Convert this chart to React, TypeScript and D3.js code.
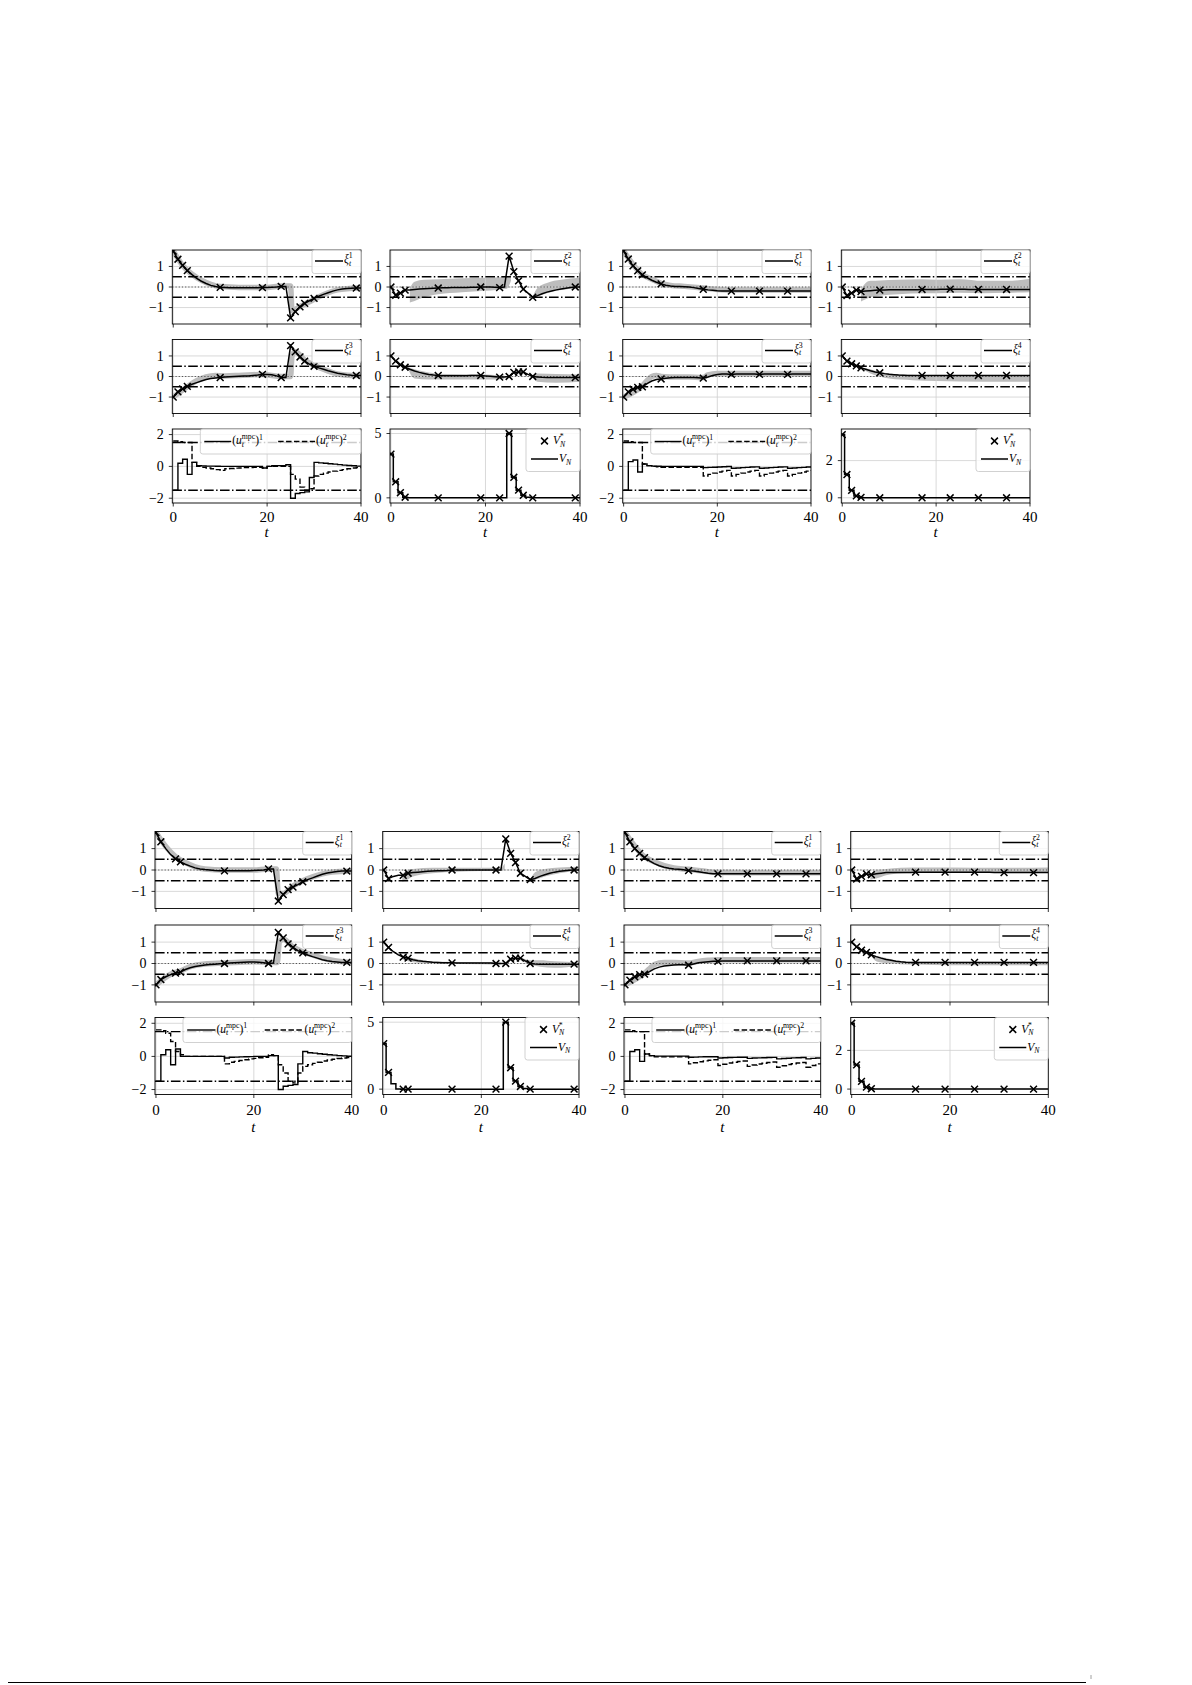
import React from 'react';
import * as d3 from 'd3';

// ---------- shared ----------
const T = d3.range(0, 41);
const X_DOMAIN = [-0.2, 40];
const X_TICKS = [0, 20, 40];
const X_TICK_LABELS = ['0', '20', '40'];
const XI_DOMAIN = [-1.8, 1.8];
const XI_TICKS = [-1, 0, 1];
const XI_TICK_LABELS = ['−1', '0', '1'];
const U_DOMAIN = [-2.3, 2.35];
const U_TICKS = [-2, 0, 2];
const U_TICK_LABELS = ['−2', '0', '2'];
const XI_BOUNDS = [-0.5, 0.5];
const U_BOUNDS = [-1.5, 1.5];
const V5_DOMAIN = [-0.4, 5.35];
const V5_TICKS = [0, 5];
const V5_TICK_LABELS = ['0', '5'];
const V2_DOMAIN = [-0.28, 3.7];
const V2_TICKS = [0, 2];
const V2_TICK_LABELS = ['0', '2'];

type Pt = [number, number];
type Bd = [number, number, number] | null;

// ---------- scenario A (top, left pair) ----------
const A_MARK = [0, 1, 2, 3, 10, 19, 23, 25, 26, 27, 28, 30, 39];
const A_XI1 = [
  1.75, 1.35, 1.05, 0.8, 0.6, 0.42, 0.28, 0.17, 0.08, 0.02,
  -0.02, -0.03, -0.04, -0.04, -0.04, -0.04, -0.04, -0.04, -0.04, -0.03,
  -0.02, -0.01, 0.0, 0.03, 0.03, -1.5, -1.2, -0.97, -0.8, -0.67,
  -0.55, -0.45, -0.36, -0.28, -0.2, -0.14, -0.1, -0.07, -0.06, -0.05, -0.05];
const A_XI2 = [
  0, -0.4, -0.3, -0.15, -0.15, -0.12, -0.1, -0.08, -0.07, -0.06,
  -0.05, -0.04, -0.04, -0.03, -0.03, -0.02, -0.02, -0.01, -0.01, 0.0,
  0.0, 0.0, -0.01, -0.03, 0.0, 1.5, 0.75, 0.3, -0.1, -0.3,
  -0.5, -0.42, -0.33, -0.25, -0.19, -0.14, -0.1, -0.06, -0.03, 0.0, 0.0];
const A_XI3 = [
  -1.0, -0.75, -0.6, -0.48, -0.38, -0.3, -0.22, -0.15, -0.1, -0.07,
  -0.05, -0.03, -0.01, 0.0, 0.01, 0.02, 0.03, 0.05, 0.07, 0.1,
  0.1, 0.08, 0.03, -0.05, -0.05, 1.5, 1.2, 0.95, 0.75, 0.6,
  0.5, 0.42, 0.35, 0.28, 0.22, 0.16, 0.12, 0.08, 0.06, 0.05, 0.05];
const A_XI4 = [
  1.0, 0.75, 0.57, 0.45, 0.35, 0.27, 0.2, 0.15, 0.1, 0.07,
  0.05, 0.04, 0.04, 0.04, 0.04, 0.04, 0.04, 0.05, 0.05, 0.05,
  0.03, 0.01, -0.01, -0.03, -0.02, 0.0, 0.2, 0.22, 0.22, 0.1,
  0.0, -0.02, -0.04, -0.05, -0.05, -0.05, -0.05, -0.05, -0.05, -0.05, -0.05];
const A_U1 = [
  -1.5, 0.2, 0.45, -0.5, 0.25, 0.05, 0.03, 0.02, 0.02, 0.01,
  0, 0, 0, 0, 0, 0, 0, 0, 0, -0.1,
  0.0, 0.05, 0.05, 0.05, 0.1, -2.0, -1.7, -1.65, -1.6, -0.7,
  0.25, 0.22, 0.2, 0.17, 0.14, 0.11, 0.08, 0.06, 0.04, 0.02, 0.0];
const A_U2 = [
  1.6, 1.55, 1.5, 1.5, 0.25, 0.0, -0.05, -0.1, -0.15, -0.2,
  -0.25, -0.15, -0.13, -0.11, -0.1, -0.08, -0.07, -0.06, -0.05, -0.1,
  0, 0, 0, 0, 0, -0.5, -0.8, -1.3, -1.5, -1.4,
  -0.6, -0.5, -0.42, -0.35, -0.3, -0.25, -0.2, -0.15, -0.1, -0.08, -0.05];
const A_V = [
  3.4, 1.25, 0.4, 0.05, 0, 0, 0, 0, 0, 0,
  0, 0, 0, 0, 0, 0, 0, 0, 0, 0,
  0, 0, 0, 0, 0, 5.0, 1.6, 0.6, 0.2, 0.05,
  0, 0, 0, 0, 0, 0, 0, 0, 0, 0, 0];
const A_G1: Pt[] = [[0, 1.75], [2, 1.05], [4, 0.62], [6, 0.33], [8, 0.13], [10, 0.02], [14, -0.02], [20, -0.02], [23, 0.05], [25, 0.05], [25.3, -1.15], [27, -0.95], [29, -0.72], [31, -0.48], [33, -0.28], [35, -0.14], [37, -0.08], [40, -0.05]];
const A_G3: Pt[] = [[0, -1], [3, -0.5], [5, -0.2], [7, -0.02], [9, 0.05], [11, 0.03], [14, 0.05], [19, 0.1], [23, 0.0], [25, 0.0], [25.3, 1.0], [26, 1.2], [28, 0.8], [30, 0.55], [32, 0.35], [35, 0.12], [38, 0.05], [40, 0.05]];
const A_B2: Bd[] = [[4, -0.75, -0.05], [5, -0.68, 0.25], [7, -0.5, 0.35], [10, -0.35, 0.38], [15, -0.25, 0.42], [20, -0.18, 0.45], [24.5, -0.08, 0.5], [25.4, 0.3, 0.6], null, [30, -0.5, -0.45], [31, -0.45, -0.05], [33, -0.3, 0.2], [36, -0.15, 0.35], [40, -0.05, 0.45]];
const A_B4: Bd[] = [[3.5, 0.42, 0.48], [5, -0.1, 0.35], [8, -0.15, 0.2], [12, -0.15, 0.12], [20, -0.15, 0.1], [24, -0.12, 0.05], null, [30, -0.05, 0.05], [31, -0.25, 0.15], [35, -0.3, 0.12], [40, -0.25, 0.1]];

// ---------- scenario B (top, right pair) ----------
const B_MARK = [0, 1, 2, 3, 4, 8, 17, 23, 29, 35];
const B_XI1 = [
  1.75, 1.36, 1.03, 0.79, 0.59, 0.45, 0.33, 0.23, 0.15, 0.09,
  0.05, 0.03, 0.02, 0.01, 0.0, -0.03, -0.07, -0.11, -0.14, -0.16,
  -0.18, -0.19, -0.19, -0.2, -0.2, -0.2, -0.2, -0.2, -0.2, -0.2,
  -0.2, -0.2, -0.2, -0.2, -0.2, -0.2, -0.2, -0.2, -0.2, -0.2, -0.2];
const B_XI2 = [
  0, -0.42, -0.3, -0.15, -0.22, -0.2, -0.18, -0.16, -0.15, -0.14,
  -0.13, -0.13, -0.13, -0.13, -0.13, -0.13, -0.13, -0.12, -0.12, -0.12,
  -0.12, -0.11, -0.11, -0.1, -0.11, -0.11, -0.11, -0.12, -0.12, -0.12,
  -0.12, -0.12, -0.12, -0.12, -0.12, -0.12, -0.12, -0.12, -0.12, -0.12, -0.12];
const B_XI3 = [
  -1.0, -0.75, -0.62, -0.53, -0.5, -0.35, -0.22, -0.15, -0.12, -0.08,
  -0.06, -0.05, -0.05, -0.05, -0.05, -0.05, -0.06, -0.08, -0.02, 0.05,
  0.1, 0.12, 0.12, 0.1, 0.12, 0.12, 0.12, 0.12, 0.12, 0.1,
  0.12, 0.12, 0.12, 0.12, 0.12, 0.1, 0.12, 0.12, 0.12, 0.12, 0.12];
const B_XI4 = [
  1.0, 0.75, 0.62, 0.52, 0.42, 0.35, 0.28, 0.22, 0.18, 0.14,
  0.11, 0.09, 0.07, 0.06, 0.05, 0.05, 0.05, 0.05, 0.05, 0.05,
  0.05, 0.05, 0.05, 0.05, 0.05, 0.05, 0.05, 0.05, 0.05, 0.05,
  0.05, 0.05, 0.05, 0.05, 0.05, 0.05, 0.05, 0.05, 0.05, 0.05, 0.05];
const B_U1 = [
  -1.5, 0.3, 0.4, -0.35, 0.15, 0.05, 0.02, 0.01, 0, 0,
  0, 0, 0, 0, 0, 0, 0, -0.08, -0.06, -0.05,
  -0.04, -0.02, -0.01, -0.12, -0.1, -0.08, -0.06, -0.04, -0.03, -0.12,
  -0.1, -0.08, -0.06, -0.04, -0.03, -0.12, -0.1, -0.08, -0.06, -0.04, -0.03];
const B_U2 = [
  1.6, 1.55, 1.5, 1.5, 0.15, 0.05, 0.0, -0.03, -0.05, -0.05,
  -0.05, -0.05, -0.05, -0.05, -0.05, -0.05, -0.05, -0.6, -0.5, -0.42,
  -0.35, -0.3, -0.25, -0.6, -0.5, -0.42, -0.35, -0.3, -0.25, -0.6,
  -0.5, -0.42, -0.35, -0.3, -0.25, -0.6, -0.5, -0.42, -0.35, -0.3, -0.25];
const B_V = [
  3.4, 1.25, 0.4, 0.1, 0.02, 0, 0, 0, 0, 0,
  0, 0, 0, 0, 0, 0, 0, 0, 0, 0,
  0, 0, 0, 0, 0, 0, 0, 0, 0, 0,
  0, 0, 0, 0, 0, 0, 0, 0, 0, 0, 0];
const B_G1: Pt[] = [[0, 1.75], [4, 0.6], [6, 0.38], [8, 0.18], [10, 0.08], [13, 0.03], [17, -0.05], [20, -0.12], [25, -0.15], [30, -0.15], [35, -0.15], [40, -0.15]];
const B_G3: Pt[] = [[0, -1.0], [4, -0.45], [5, -0.2], [6, 0.0], [7, 0.05], [8, 0.0], [10, -0.02], [14, -0.03], [17, -0.05], [18, 0.08], [20, 0.15], [25, 0.15], [30, 0.15], [35, 0.15], [40, 0.15]];
const B_B2: Bd[] = [[4, -0.7, -0.1], [5, -0.6, 0.2], [6, -0.5, 0.3], [8, -0.42, 0.32], [12, -0.35, 0.35], [17, -0.3, 0.38], [20, -0.3, 0.35], [25, -0.28, 0.38], [30, -0.3, 0.3], [35, -0.28, 0.3], [40, -0.25, 0.4]];
const B_B4: Bd[] = [[4, 0.4, 0.45], [6, 0.15, 0.35], [8, 0.0, 0.22], [10, -0.1, 0.15], [15, -0.18, 0.08], [20, -0.22, 0.05], [30, -0.25, 0.05], [40, -0.25, 0.05]];

// ---------- scenario C (bottom, left pair) ----------
const C_MARK = [0, 1, 4, 5, 14, 23, 25, 26, 27, 28, 30, 39];
const C_XI1 = [
  1.75, 1.32, 1.0, 0.72, 0.52, 0.38, 0.27, 0.18, 0.1, 0.05,
  0.02, 0.0, -0.02, -0.03, -0.04, -0.03, -0.03, -0.03, -0.03, -0.03,
  -0.02, -0.01, 0.0, 0.05, 0.05, -1.45, -1.15, -0.92, -0.8, -0.68,
  -0.55, -0.45, -0.37, -0.28, -0.2, -0.14, -0.1, -0.07, -0.05, -0.05, -0.05];
const C_XI2 = [
  0, -0.4, -0.3, -0.25, -0.25, -0.15, -0.12, -0.1, -0.08, -0.06,
  -0.05, -0.04, -0.03, -0.02, 0.0, 0.0, 0.0, 0.0, 0.0, 0.0,
  0.0, 0.0, 0.0, 0.0, 0.0, 1.45, 0.78, 0.35, -0.15, -0.3,
  -0.45, -0.4, -0.3, -0.22, -0.15, -0.1, -0.06, -0.03, -0.01, 0.0, 0.0];
const C_XI3 = [
  -1.0, -0.75, -0.62, -0.52, -0.45, -0.4, -0.28, -0.2, -0.14, -0.1,
  -0.07, -0.05, -0.03, -0.01, 0.0, 0.02, 0.04, 0.05, 0.06, 0.07,
  0.07, 0.06, 0.04, 0.0, 0.02, 1.45, 1.2, 0.92, 0.75, 0.6,
  0.5, 0.4, 0.32, 0.25, 0.18, 0.13, 0.09, 0.07, 0.05, 0.05, 0.05];
const C_XI4 = [
  1.0, 0.75, 0.55, 0.4, 0.3, 0.25, 0.18, 0.13, 0.1, 0.08,
  0.06, 0.05, 0.04, 0.03, 0.03, 0.02, 0.02, 0.02, 0.02, 0.02,
  0.02, 0.02, 0.02, 0.0, 0.0, 0.0, 0.2, 0.25, 0.25, 0.12,
  0.0, -0.02, -0.03, -0.03, -0.03, -0.03, -0.03, -0.03, -0.03, -0.03, -0.03];
const C_U1 = [
  -1.5, 0.1, 0.4, -0.5, 0.45, 0.0, 0.0, 0.0, 0.0, 0.0,
  0, 0, 0, 0, -0.1, -0.05, -0.04, -0.03, -0.02, -0.01,
  0, 0, 0, 0.05, 0.05, -2.0, -1.8, -1.75, -1.7, -0.45,
  0.3, 0.22, 0.2, 0.16, 0.13, 0.1, 0.08, 0.05, 0.03, 0.01, 0.0];
const C_U2 = [
  1.6, 1.55, 1.4, 0.9, 0.3, 0.1, 0.0, 0, 0, 0,
  0, 0, 0, 0, -0.45, -0.35, -0.3, -0.25, -0.2, -0.15,
  -0.12, -0.08, -0.05, 0.1, 0.05, -0.5, -1.0, -1.5, -1.6, -1.0,
  -0.6, -0.5, -0.42, -0.35, -0.28, -0.22, -0.17, -0.13, -0.1, -0.07, -0.05];
const C_V = [
  3.4, 1.25, 0.4, 0.02, 0, 0, 0, 0, 0, 0,
  0, 0, 0, 0, 0, 0, 0, 0, 0, 0,
  0, 0, 0, 0, 0, 5.0, 1.6, 0.6, 0.2, 0.05,
  0, 0, 0, 0, 0, 0, 0, 0, 0, 0, 0];
const C_G1: Pt[] = [[0, 1.75], [2, 1.1], [4, 0.62], [6, 0.35], [8, 0.15], [10, 0.05], [14, 0.0], [20, 0.0], [23, 0.05], [24.6, 0.05], [25, -1.1], [26, -1.1], [28, -0.75], [30, -0.5], [32, -0.32], [34, -0.18], [36, -0.1], [40, -0.05]];
const C_G3: Pt[] = [[0, -1], [3, -0.5], [5, -0.35], [7, -0.15], [10, -0.02], [14, 0.02], [20, 0.08], [23, 0.05], [24.8, 0.05], [25.2, 1.0], [26, 1.15], [28, 0.78], [30, 0.55], [32, 0.4], [35, 0.2], [38, 0.08], [40, 0.05]];
const C_B2: Bd[] = [[3.8, -0.55, -0.2], [4.5, -0.5, -0.05], [6, -0.3, 0.05], [10, -0.15, 0.1], [15, -0.08, 0.1], [20, -0.05, 0.1], [24, -0.03, 0.1], [24.8, 0.0, 0.3], null, [30, -0.5, -0.45], [31, -0.45, -0.1], [33, -0.3, 0.05], [36, -0.15, 0.12], [40, -0.05, 0.15]];
const C_B4: Bd[] = [[3.8, 0.2, 0.35], [5, 0.1, 0.3], [8, 0.02, 0.15], [12, -0.02, 0.08], [20, -0.03, 0.06], [24, -0.05, 0.05], null, [28, 0.15, 0.3], [30, -0.05, 0.15], [32, -0.15, 0.15], [35, -0.2, 0.1], [40, -0.1, 0.05]];

// ---------- scenario D (bottom, right pair) ----------
const D_MARK = [0, 1, 2, 3, 4, 13, 19, 25, 31, 37];
const D_XI1 = [
  1.75, 1.32, 1.0, 0.78, 0.58, 0.43, 0.3, 0.2, 0.13, 0.08,
  0.05, 0.03, 0.01, -0.03, -0.05, -0.08, -0.12, -0.15, -0.17, -0.18,
  -0.18, -0.18, -0.18, -0.18, -0.18, -0.18, -0.18, -0.18, -0.18, -0.18,
  -0.18, -0.18, -0.18, -0.18, -0.18, -0.18, -0.18, -0.18, -0.18, -0.18, -0.18];
const D_XI2 = [
  0, -0.42, -0.3, -0.18, -0.22, -0.18, -0.15, -0.12, -0.12, -0.12,
  -0.12, -0.12, -0.12, -0.1, -0.1, -0.1, -0.1, -0.1, -0.1, -0.1,
  -0.1, -0.1, -0.1, -0.1, -0.1, -0.1, -0.11, -0.11, -0.11, -0.12,
  -0.12, -0.12, -0.12, -0.12, -0.12, -0.12, -0.12, -0.12, -0.12, -0.12, -0.12];
const D_XI3 = [
  -1.0, -0.78, -0.62, -0.52, -0.5, -0.38, -0.25, -0.17, -0.12, -0.09,
  -0.07, -0.06, -0.06, -0.08, -0.02, 0.03, 0.06, 0.08, 0.1, 0.1,
  0.12, 0.12, 0.12, 0.12, 0.12, 0.12, 0.12, 0.12, 0.12, 0.12,
  0.12, 0.12, 0.12, 0.12, 0.12, 0.12, 0.12, 0.12, 0.12, 0.12, 0.12];
const D_XI4 = [
  1.0, 0.78, 0.62, 0.52, 0.4, 0.32, 0.25, 0.19, 0.15, 0.11,
  0.08, 0.06, 0.05, 0.05, 0.05, 0.05, 0.05, 0.05, 0.05, 0.05,
  0.05, 0.05, 0.05, 0.05, 0.05, 0.05, 0.05, 0.05, 0.05, 0.05,
  0.05, 0.05, 0.05, 0.05, 0.05, 0.05, 0.05, 0.05, 0.05, 0.05, 0.05];
const D_U1 = [
  -1.5, 0.3, 0.4, -0.3, 0.15, 0.05, 0.02, 0.02, 0.02, 0.02,
  0.02, 0.02, 0.02, -0.05, -0.04, -0.03, -0.02, -0.02, -0.02, -0.1,
  -0.08, -0.07, -0.06, -0.05, -0.05, -0.12, -0.1, -0.09, -0.08, -0.07,
  -0.06, -0.15, -0.13, -0.11, -0.09, -0.08, -0.07, -0.15, -0.12, -0.1, -0.08];
const D_U2 = [
  1.6, 1.55, 1.5, 1.5, 0.15, 0.05, -0.03, -0.03, -0.03, -0.03,
  -0.03, -0.03, -0.03, -0.45, -0.38, -0.32, -0.27, -0.23, -0.2, -0.55,
  -0.47, -0.4, -0.35, -0.31, -0.28, -0.6, -0.52, -0.46, -0.41, -0.37,
  -0.34, -0.65, -0.56, -0.49, -0.44, -0.4, -0.37, -0.65, -0.55, -0.45, -0.4];
const D_V = [
  3.4, 1.25, 0.4, 0.1, 0.02, 0, 0, 0, 0, 0,
  0, 0, 0, 0, 0, 0, 0, 0, 0, 0,
  0, 0, 0, 0, 0, 0, 0, 0, 0, 0,
  0, 0, 0, 0, 0, 0, 0, 0, 0, 0, 0];
const D_G1: Pt[] = [[0, 1.75], [4, 0.62], [6, 0.38], [8, 0.2], [10, 0.1], [13, 0.03], [16, -0.05], [19, -0.12], [25, -0.13], [31, -0.13], [37, -0.13], [40, -0.13]];
const D_G3: Pt[] = [[0, -1.0], [4, -0.45], [5, -0.25], [6, -0.05], [8, 0.05], [10, 0.05], [13, 0.02], [15, 0.1], [17, 0.15], [19, 0.18], [25, 0.18], [31, 0.18], [37, 0.18], [40, 0.18]];
const D_B2: Bd[] = [[3.8, -0.45, -0.2], [5, -0.4, 0.0], [7, -0.25, 0.05], [10, -0.15, 0.1], [15, -0.12, 0.12], [20, -0.1, 0.12], [30, -0.12, 0.1], [40, -0.1, 0.12]];
const D_B4: Bd[] = [[4, 0.35, 0.45], [5, 0.1, 0.35], [6, 0.05, 0.3], [8, 0.0, 0.2], [10, -0.03, 0.12], [13, -0.05, 0.08], [20, -0.08, 0.08], [30, -0.08, 0.08], [40, -0.08, 0.08]];

// ---------- assembling ----------
const SCEN = [
  { mark: A_MARK, xi: [A_XI1, A_XI2, A_XI3, A_XI4], g1: A_G1, g3: A_G3, b2: A_B2, b4: A_B4, u1: A_U1, u2: A_U2, V: A_V, vDom: V5_DOMAIN, vTicks: V5_TICKS, vLab: V5_TICK_LABELS },
  { mark: B_MARK, xi: [B_XI1, B_XI2, B_XI3, B_XI4], g1: B_G1, g3: B_G3, b2: B_B2, b4: B_B4, u1: B_U1, u2: B_U2, V: B_V, vDom: V2_DOMAIN, vTicks: V2_TICKS, vLab: V2_TICK_LABELS },
  { mark: C_MARK, xi: [C_XI1, C_XI2, C_XI3, C_XI4], g1: C_G1, g3: C_G3, b2: C_B2, b4: C_B4, u1: C_U1, u2: C_U2, V: C_V, vDom: V5_DOMAIN, vTicks: V5_TICKS, vLab: V5_TICK_LABELS },
  { mark: D_MARK, xi: [D_XI1, D_XI2, D_XI3, D_XI4], g1: D_G1, g3: D_G3, b2: D_B2, b4: D_B4, u1: D_U1, u2: D_U2, V: D_V, vDom: V2_DOMAIN, vTicks: V2_TICKS, vLab: V2_TICK_LABELS },
];

const GROUPS = [
  { cols: [[172.3, 361], [390, 580], [622.7, 811], [841.3, 1030]], rows: [250, 339.5, 429], h: 74, tickY: 521.7, tY: 537, scen: [0, 1] },
  { cols: [[155, 351.7], [382.7, 579], [624, 820.7], [850.7, 1048.3]], rows: [831.5, 925, 1017.5], h: 77, tickY: 1115, tY: 1132, scen: [2, 3] },
];

const FONT = "'Liberation Serif', 'DejaVu Serif', serif";
const GRID = '#cfcfcf';
const GRAY = '#bdbdbd';
const DASHDOT = '9.6 2.4 1.5 2.4';
const LF = 11.5; // legend main font
const LS = 7.8; // legend script font

function Cross({ x, y, s = 3.4 }: { x: number; y: number; s?: number }) {
  return <path d={`M${x - s},${y - s}L${x + s},${y + s}M${x - s},${y + s}L${x + s},${y - s}`} stroke="#000" strokeWidth={1.5} fill="none" />;
}

function XiLabel({ x, y, n }: { x: number; y: number; n: number }) {
  return (
    <text x={x} y={y} fontFamily={FONT} fontSize={LF}>
      <tspan fontStyle="italic">ξ</tspan>
      <tspan fontSize={LS} fontStyle="italic" dy={2.5}>t</tspan>
      <tspan fontSize={LS} dx={-2.3} dy={-7.2}>{n}</tspan>
    </text>
  );
}

function ULabel({ x, y, n }: { x: number; y: number; n: number }) {
  return (
    <text x={x} y={y} fontFamily={FONT} fontSize={LF}>
      <tspan>(</tspan>
      <tspan fontStyle="italic">u</tspan>
      <tspan fontSize={LS} fontStyle="italic" dy={2.5}>t</tspan>
      <tspan fontSize={LS} dx={-2.3} dy={-7.2}>mpc</tspan>
      <tspan dy={4.7}>)</tspan>
      <tspan fontSize={LS} dy={-4.5}>{n}</tspan>
    </text>
  );
}

function Panel(props: {
  id: string; x0: number; x1: number; y0: number; h: number;
  yDomain: number[]; yTicks: number[]; yLabels: string[];
  xAxis: boolean; tickY: number; tY: number;
  under: (xs: any, ys: any) => React.ReactNode;
  over: (xs: any, ys: any) => React.ReactNode;
  legend: React.ReactNode;
}) {
  const { id, x0, x1, y0, h, yDomain, yTicks, yLabels, xAxis, tickY, tY } = props;
  const xs = d3.scaleLinear().domain(X_DOMAIN).range([x0, x1]);
  const ys = d3.scaleLinear().domain(yDomain).range([y0 + h, y0]);
  return (
    <g>
      <defs>
        <clipPath id={id}><rect x={x0} y={y0} width={x1 - x0} height={h} /></clipPath>
      </defs>
      <g clipPath={`url(#${id})`}>
        {props.under(xs, ys)}
        {yTicks.map((v) => (
          <line key={'gy' + v} x1={x0} x2={x1} y1={ys(v)} y2={ys(v)} stroke={GRID} strokeWidth={0.8} />
        ))}
        {X_TICKS.map((v) => (
          <line key={'gx' + v} x1={xs(v)} x2={xs(v)} y1={y0} y2={y0 + h} stroke={GRID} strokeWidth={0.8} />
        ))}
        {props.over(xs, ys)}
      </g>
      <rect x={x0} y={y0} width={x1 - x0} height={h} fill="none" stroke="#000" strokeWidth={0.9} />
      {yTicks.map((v, i) => (
        <g key={'yt' + v}>
          <line x1={x0 - 3.5} x2={x0} y1={ys(v)} y2={ys(v)} stroke="#000" strokeWidth={0.8} />
          <text x={x0 - 8.5} y={ys(v) + 4.7} textAnchor="end" fontFamily={FONT} fontSize={14}>{yLabels[i]}</text>
        </g>
      ))}
      {X_TICKS.map((v, i) => (
        <g key={'xt' + v}>
          <line x1={xs(v)} x2={xs(v)} y1={y0 + h} y2={y0 + h + 3.5} stroke="#000" strokeWidth={0.8} />
          {xAxis && <text x={xs(v)} y={tickY} textAnchor="middle" fontFamily={FONT} fontSize={15}>{X_TICK_LABELS[i]}</text>}
        </g>
      ))}
      {xAxis && (
        <text x={(x0 + x1) / 2} y={tY} textAnchor="middle" fontFamily={FONT} fontSize={15} fontStyle="italic">t</text>
      )}
      {props.legend}
    </g>
  );
}

function LegendBox({ x, y, w, h }: { x: number; y: number; w: number; h: number }) {
  return <rect x={x} y={y} width={w} height={h} rx={2.5} fill="#fff" fillOpacity={0.8} stroke="#cccccc" strokeWidth={0.9} />;
}

function App() {
  const panels: React.ReactNode[] = [];
  GROUPS.forEach((G, gi) => {
    G.scen.forEach((si, pi) => {
      const S = SCEN[si];
      const cA = G.cols[pi * 2];
      const cB = G.cols[pi * 2 + 1];
      const base = { h: G.h, tickY: G.tickY, tY: G.tY };
      const xiLine = (xs: any, ys: any) => d3.line<number>().x((_, i) => xs(T[i])).y((d) => ys(d));
      const xiPanel = (k: number, col: number[], row: number) => {
        const data = S.xi[k];
        const gray = k === 0 ? S.g1 : k === 2 ? S.g3 : null;
        const band = k === 1 ? S.b2 : k === 3 ? S.b4 : null;
        const bx1 = col[1];
        const bw = 49;
        const bx = bx1 - bw;
        const by = G.rows[row];
        return (
          <Panel key={`p${gi}-${pi}-${k}`} id={`c${gi}${pi}${k}`} x0={col[0]} x1={col[1]} y0={G.rows[row]}
            yDomain={XI_DOMAIN} yTicks={XI_TICKS} yLabels={XI_TICK_LABELS} xAxis={false} {...base}
            under={(xs, ys) => (
              <g>
                {band && (
                  <path d={d3.area<Bd>().defined((d) => d !== null).x((d) => xs((d as any)[0])).y0((d) => ys((d as any)[1])).y1((d) => ys((d as any)[2])).curve(d3.curveMonotoneX)(band) || ''} fill={GRAY} />
                )}
              </g>
            )}
            over={(xs, ys) => (
              <g>
                {gray && (
                  <path d={d3.line<Pt>().x((d) => xs(d[0])).y((d) => ys(d[1])).curve(d3.curveMonotoneX)(gray) || ''} fill="none" stroke={GRAY} strokeWidth={5.5} strokeLinejoin="round" />
                )}
                {XI_BOUNDS.map((b) => (
                  <line key={b} x1={col[0]} x2={col[1]} y1={ys(b)} y2={ys(b)} stroke="#000" strokeWidth={1.4} strokeDasharray={DASHDOT} />
                ))}
                <line x1={col[0]} x2={col[1]} y1={ys(0)} y2={ys(0)} stroke="#555" strokeWidth={1} strokeDasharray="1.2 2" />
                <path d={xiLine(xs, ys)(data) || ''} fill="none" stroke="#000" strokeWidth={1.5} />
                {S.mark.map((t) => <Cross key={t} x={xs(t)} y={ys(data[t])} />)}
              </g>
            )}
            legend={
              <g>
                <LegendBox x={bx} y={by} w={bw} h={23.5} />
                <line x1={bx + 3} x2={bx + 31} y1={by + 11} y2={by + 11} stroke="#000" strokeWidth={1.5} />
                <XiLabel x={bx + 32} y={by + 13} n={k + 1} />
              </g>
            }
          />
        );
      };
      panels.push(xiPanel(0, cA, 0));
      panels.push(xiPanel(1, cB, 0));
      panels.push(xiPanel(2, cA, 1));
      panels.push(xiPanel(3, cB, 1));

      // input panel
      const uy = G.rows[2];
      const ubx = cA[0] + 28;
      const ubw = cA[1] - ubx;
      const kk = ubw / 161;
      panels.push(
        <Panel key={`p${gi}-${pi}-u`} id={`c${gi}${pi}u`} x0={cA[0]} x1={cA[1]} y0={uy}
          yDomain={U_DOMAIN} yTicks={U_TICKS} yLabels={U_TICK_LABELS} xAxis={true} {...base}
          under={() => null}
          over={(xs, ys) => {
            const ln = d3.line<number>().x((_, i) => xs(T[i])).y((d) => ys(d)).curve(d3.curveStepAfter);
            return (
              <g>
                {U_BOUNDS.map((b) => (
                  <line key={b} x1={cA[0]} x2={cA[1]} y1={ys(b)} y2={ys(b)} stroke="#000" strokeWidth={1.4} strokeDasharray={DASHDOT} />
                ))}
                <path d={ln(S.u2) || ''} fill="none" stroke="#000" strokeWidth={1.4} strokeDasharray="5.5 2.4" />
                <path d={ln(S.u1) || ''} fill="none" stroke="#000" strokeWidth={1.4} />
              </g>
            );
          }}
          legend={
            <g>
              <LegendBox x={ubx} y={uy} w={ubw} h={25} />
              <line x1={ubx + 4 * kk} x2={ubx + 31 * kk} y1={uy + 12.5} y2={uy + 12.5} stroke="#000" strokeWidth={1.4} />
              <ULabel x={ubx + 32 * kk} y={uy + 15} n={1} />
              <line x1={ubx + 78 * kk} x2={ubx + 115 * kk} y1={uy + 12.5} y2={uy + 12.5} stroke="#000" strokeWidth={1.4} strokeDasharray="5.5 2.4" />
              <ULabel x={ubx + 116 * kk} y={uy + 15} n={2} />
            </g>
          }
        />
      );

      // value function panel
      const vbw = 54;
      const vbx = cB[1] - vbw;
      panels.push(
        <Panel key={`p${gi}-${pi}-v`} id={`c${gi}${pi}v`} x0={cB[0]} x1={cB[1]} y0={uy}
          yDomain={S.vDom} yTicks={S.vTicks} yLabels={S.vLab} xAxis={true} {...base}
          under={() => null}
          over={(xs, ys) => {
            const ln = d3.line<number>().x((_, i) => xs(T[i])).y((d) => ys(d)).curve(d3.curveStep);
            return (
              <g>
                <path d={ln(S.V) || ''} fill="none" stroke="#000" strokeWidth={1.5} />
                {S.mark.map((t) => <Cross key={t} x={xs(t)} y={ys(S.V[t])} />)}
              </g>
            );
          }}
          legend={
            <g>
              <LegendBox x={vbx} y={uy} w={vbw} h={42.5} />
              <Cross x={vbx + 18.5} y={uy + 12} />
              <text x={vbx + 27} y={uy + 15} fontFamily={FONT} fontSize={LF}>
                <tspan fontStyle="italic">V</tspan>
                <tspan fontSize={LS} fontStyle="italic" dy={2.5}>N</tspan>
                <tspan fontSize={LS} dx={-5.5} dy={-7.2}>*</tspan>
              </text>
              <line x1={vbx + 5} x2={vbx + 32} y1={uy + 30} y2={uy + 30} stroke="#000" strokeWidth={1.5} />
              <text x={vbx + 33} y={uy + 33} fontFamily={FONT} fontSize={LF}>
                <tspan fontStyle="italic">V</tspan>
                <tspan fontSize={LS} fontStyle="italic" dy={2.5}>N</tspan>
              </text>
            </g>
          }
        />
      );
    });
  });

  return (
    <div style={{ position: 'relative', width: 1192, height: 1685 }}>
      <svg width={1192} height={1685} style={{ position: 'absolute', left: -8, top: -8, background: '#fff' }}>
        <rect x={0} y={0} width={1192} height={1685} fill="#fff" />
        {panels}
        <line x1={0} x2={1086} y1={1682.5} y2={1682.5} stroke="#000" strokeWidth={1} />
        <line x1={1091} x2={1091} y1={1675} y2={1679} stroke="#888" strokeWidth={0.8} />
      </svg>
    </div>
  );
}

export default App;
